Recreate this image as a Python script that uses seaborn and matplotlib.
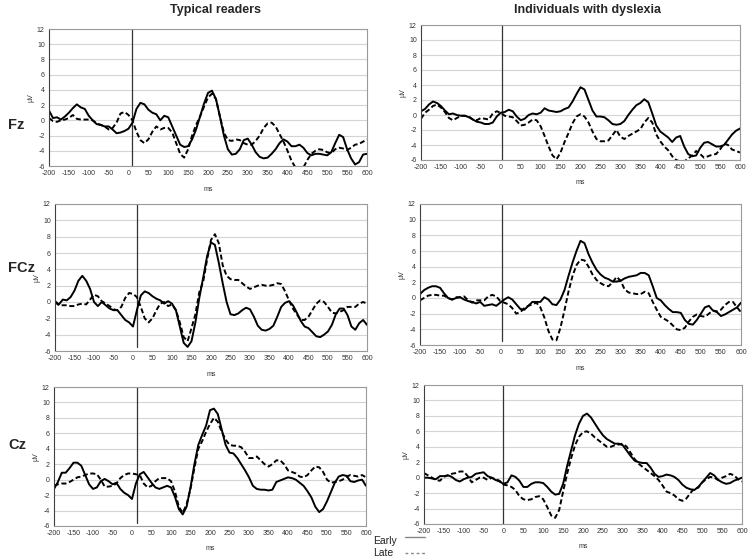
import matplotlib
matplotlib.use("Agg")
import matplotlib.pyplot as plt
import seaborn as sns

# time axis (ms), one sample every 10 ms
ms = list(range(-200, 601, 10))

# --- Fz ---
fz_typ_early = [1.3, 0.3, 0.4, 0.1, 0.5, 1.0, 1.6, 2.1, 1.7, 1.5, 0.6, 0.0, -0.5, -0.6, -0.8, -0.8, -1.2, -1.7, -1.6, -1.4,
                -1.1, -0.3, 1.5, 2.3, 2.1, 1.4, 1.0, 0.8, 0.0, 0.6, 0.4, -0.8, -2.0, -3.2, -3.5, -3.4, -2.5, -1.2, 0.5, 2.2,
                3.6, 3.9, 2.8, 0.5, -2.0, -3.8, -4.5, -4.4, -3.8, -2.6, -2.4, -3.2, -4.2, -4.8, -5.0, -4.9, -4.4, -3.8, -3.0, -2.5,
                -2.8, -3.4, -3.4, -3.2, -3.6, -4.3, -4.6, -4.4, -4.4, -4.5, -4.6, -4.2, -3.0, -1.9, -2.2, -3.8, -5.0, -5.8, -5.5, -4.5,
                -4.4]
fz_typ_late = [0.3, -0.1, -0.2, 0.0, 0.1, 0.3, 0.7, 0.2, 0.1, 0.1, 0.1, 0.0, -0.4, -0.6, -0.8, -1.2, -1.0, -0.3, 0.9, 1.1,
               0.7, 0.0, -1.5, -2.6, -3.0, -2.5, -1.5, -0.8, -1.2, -1.0, -1.0, -1.6, -3.0, -4.4, -4.9, -3.8, -2.0, -0.6, 0.5, 1.8,
               3.0, 3.5, 2.8, 0.5, -1.6, -2.6, -2.7, -2.5, -2.6, -3.0, -3.2, -3.2, -2.7, -2.0, -1.0, -0.4, -0.3, -0.8, -1.8, -2.8,
               -4.0, -5.3, -6.2, -6.5, -6.2, -5.2, -4.4, -4.0, -3.8, -3.9, -4.2, -4.3, -3.8, -3.6, -3.7, -3.9, -3.6, -3.2, -3.1, -2.8,
               -2.5]
fz_dys_early = [0.5, 0.8, 1.4, 1.8, 1.6, 1.2, 0.6, 0.1, 0.2, 0.0, -0.1, -0.1, -0.3, -0.6, -0.9, -1.0, -1.2, -1.2, -1.0, -0.2,
                0.3, 0.4, 0.7, 0.5, -0.2, -0.7, -0.5, 0.0, 0.2, 0.1, 0.3, 0.9, 0.6, 0.5, 0.4, 0.5, 0.8, 1.0, 1.8, 2.8,
                3.7, 3.4, 2.0, 0.6, -0.2, -0.2, -0.3, -0.7, -1.2, -1.3, -1.2, -0.8, 0.0, 0.7, 1.3, 1.6, 2.1, 1.7, 0.2, -1.4,
                -2.2, -2.6, -3.0, -3.6, -3.0, -2.8, -4.2, -5.2, -5.5, -5.4, -4.4, -3.7, -3.6, -3.9, -4.2, -4.2, -4.0, -3.3, -2.6, -2.1,
                -1.8]
fz_dys_late = [-0.5, 0.3, 0.7, 1.2, 1.4, 1.0, 0.4, -0.4, -0.7, -0.4, -0.1, -0.1, -0.2, -0.6, -0.7, -0.4, -0.5, -0.6, 0.2, 0.5,
               0.3, -0.1, -0.2, -0.3, -0.8, -1.4, -1.3, -1.0, -0.6, -0.7, -1.5, -2.8, -4.2, -5.4, -5.9, -5.0, -3.6, -2.4, -1.1, -0.2,
               0.1, -0.2, -1.0, -2.2, -3.2, -3.5, -3.5, -3.4, -2.7, -2.0, -2.9, -3.2, -2.8, -2.5, -2.2, -1.9, -1.0, -0.4, -1.0, -2.6,
               -3.5, -4.2, -4.7, -5.5, -6.0, -6.2, -6.2, -5.8, -5.4, -4.8, -5.2, -5.7, -5.5, -5.3, -5.2, -4.6, -3.8, -4.0, -4.6, -4.8,
               -5.0]

# --- FCz ---
fcz_typ_early = [0.1, -0.3, 0.3, 0.2, 0.6, 1.4, 2.6, 3.2, 2.6, 1.6, 0.0, -0.5, 0.0, -0.4, -0.8, -1.0, -1.0, -1.6, -2.2, -2.5,
                 -3.0, -1.0, 0.8, 1.3, 1.1, 0.7, 0.4, 0.2, -0.2, 0.1, -0.2, -1.0, -3.0, -5.0, -5.5, -4.8, -2.5, 0.5, 3.0, 5.6,
                 7.3, 7.0, 4.8, 2.3, 0.0, -1.5, -1.6, -1.4, -1.0, -0.7, -0.9, -1.8, -2.9, -3.4, -3.5, -3.3, -2.9, -1.8, -0.6, -0.1,
                 0.1, -0.4, -1.3, -2.3, -3.0, -3.2, -3.7, -4.2, -4.3, -4.0, -3.6, -2.8, -1.5, -0.8, -0.8, -1.6, -3.0, -3.4, -2.6, -2.2,
                 -2.8]
fcz_typ_late = [0.0, -0.4, -0.4, -0.4, -0.5, -0.5, -0.3, -0.2, -0.3, 0.3, 0.9, 0.7, 0.1, -0.2, -0.5, -0.9, -1.0, -0.6, 0.5, 1.1,
                1.0, 0.6, -0.6, -2.0, -2.5, -2.0, -1.0, -0.2, 0.0, -0.5, -0.3, -1.0, -2.5, -4.3, -4.8, -3.2, -1.5, 1.2, 2.5, 5.2,
                7.6, 8.3, 7.2, 4.5, 3.2, 2.8, 2.7, 2.7, 2.3, 1.9, 1.6, 1.8, 2.0, 2.1, 2.0, 2.0, 2.1, 2.3, 2.2, 1.3,
                0.2, -0.8, -1.5, -2.2, -2.2, -1.8, -1.0, -0.2, 0.2, 0.0, -0.6, -1.3, -1.4, -1.2, -1.0, -0.6, -0.6, -0.6, -0.2, 0.0,
                -0.2]
fcz_dys_early = [0.5, 1.0, 1.3, 1.5, 1.5, 1.3, 0.6, 0.0, -0.2, 0.0, 0.1, -0.2, -0.4, -0.5, -0.7, -0.5, -1.0, -0.9, -0.8, -1.0,
                 -0.6, -0.2, 0.1, -0.2, -0.8, -1.4, -1.5, -1.0, -0.5, -0.5, -0.5, 0.1, -0.2, -0.8, -0.9, -0.2, 1.0, 2.8, 4.5, 6.0,
                 7.3, 7.0, 5.6, 4.5, 3.6, 3.0, 2.6, 2.4, 2.1, 2.1, 2.2, 2.5, 2.7, 2.8, 2.9, 3.2, 3.2, 2.9, 1.5, 0.0,
                 -0.3, -0.9, -1.4, -1.8, -1.8, -1.9, -2.8, -3.3, -3.4, -2.8, -2.0, -1.2, -1.0, -1.6, -1.8, -2.3, -2.1, -1.8, -1.5, -1.2,
                 -0.6]
fcz_dys_late = [-0.3, 0.0, 0.3, 0.4, 0.4, 0.3, 0.3, 0.0, -0.2, 0.1, 0.1, 0.2, -0.3, -0.6, -0.3, -0.3, -0.3, 0.2, 0.4, 0.2,
                -0.4, -0.6, -0.8, -1.3, -2.0, -1.8, -1.3, -1.0, -0.8, -0.6, -1.2, -2.5, -4.2, -5.3, -5.4, -3.8, -1.6, 0.8, 2.8, 4.2,
                4.9, 4.8, 4.0, 3.0, 2.3, 1.9, 1.6, 1.5, 2.0, 2.7, 2.2, 1.1, 0.7, 0.6, 0.5, 0.5, 0.8, 0.6, -0.5, -1.5,
                -2.4, -2.7, -3.0, -3.5, -4.0, -4.1, -3.8, -3.0, -2.4, -2.1, -2.3, -2.4, -2.0, -1.6, -1.7, -1.5, -0.9, -0.5, -0.5, -1.2,
                -1.8]

# --- Cz ---
cz_typ_early = [-1.2, -0.3, 0.9, 0.9, 1.5, 2.2, 2.2, 1.8, 0.6, -0.6, -1.2, -1.0, -0.2, 0.1, -0.2, -0.6, -0.4, -1.2, -1.7, -2.0,
                -2.5, -0.5, 0.7, 1.0, 0.3, -0.4, -1.0, -1.2, -1.0, -0.8, -1.0, -2.2, -3.8, -4.5, -3.5, -1.0, 2.0, 4.5, 5.8, 7.0,
                9.0, 9.2, 8.5, 6.5, 4.5, 3.5, 3.4, 2.8, 2.0, 1.2, 0.3, -0.8, -1.2, -1.3, -1.3, -1.4, -1.3, -0.3, -0.1, 0.1,
                0.3, 0.2, 0.0, -0.4, -0.8, -1.5, -2.3, -3.5, -4.2, -3.8, -2.8, -1.6, -0.4, 0.4, 0.6, 0.5, -0.2, -0.3, -0.1, 0.0,
                -0.8]
cz_typ_late = [-0.8, -0.6, -0.5, -0.5, -0.3, 0.0, 0.3, 0.4, 0.6, 0.8, 0.8, 0.7, 0.0, -0.9, -0.9, -0.8, -0.5, 0.2, 0.6, 0.8,
               0.8, 0.7, 0.6, -0.5, -1.0, -0.8, -0.2, 0.2, 0.2, 0.2, -0.2, -1.5, -3.5, -4.3, -3.2, -1.2, 1.5, 4.0, 5.0, 6.2,
               7.2, 8.0, 7.5, 6.2, 5.2, 4.5, 4.4, 4.4, 4.2, 3.6, 2.8, 2.8, 3.0, 2.5, 2.0, 1.7, 2.0, 2.5, 2.5, 2.0,
               1.2, 1.0, 0.8, 0.4, 0.3, 0.6, 1.2, 1.7, 1.6, 1.0, 0.0, -0.4, -0.3, -0.2, 0.0, 0.4, 0.6, 0.5, 0.4, 0.6,
               0.3]
cz_dys_early = [0.0, 0.0, -0.1, -0.2, 0.2, 0.2, 0.3, 0.1, -0.3, -0.5, -0.2, 0.0, 0.1, 0.5, 0.6, 0.7, 0.2, 0.0, -0.3, -0.5,
                -0.8, -0.6, 0.3, 0.1, -0.4, -1.2, -1.2, -0.8, -0.6, -0.6, -0.7, -1.2, -1.8, -2.2, -2.1, -0.8, 1.5, 3.5, 5.5, 7.0,
                8.0, 8.3, 7.8, 7.0, 6.2, 5.5, 5.0, 4.7, 4.4, 4.4, 4.2, 3.5, 2.8, 2.2, 2.0, 1.9, 1.9, 1.3, 0.5, 0.1,
                0.2, 0.4, 0.3, 0.1, -0.3, -0.9, -1.3, -1.5, -1.6, -1.2, -0.6, 0.0, 0.6, 0.3, -0.3, -0.6, -0.8, -0.7, -0.4, -0.2,
                0.0]
cz_dys_late = [0.6, 0.3, 0.0, -0.3, -0.4, 0.1, 0.3, 0.5, 0.6, 0.8, 0.8, 0.2, -0.6, -0.3, 0.0, 0.0, -0.3, 0.0, -0.2, -0.4,
               -0.9, -1.0, -1.2, -1.6, -2.4, -2.8, -2.9, -2.8, -2.5, -2.4, -2.8, -3.8, -4.9, -5.2, -4.2, -1.8, 0.5, 2.5, 4.2, 5.3,
               5.9, 6.0, 5.7, 5.2, 4.8, 4.4, 4.0, 4.0, 4.2, 4.3, 4.4, 4.0, 3.2, 2.4, 1.8, 1.4, 1.0, 0.6, 0.2, -0.3,
               -1.0, -1.8, -2.0, -2.3, -2.8, -3.0, -2.7, -2.0, -1.4, -1.3, -0.6, -0.2, 0.1, 0.0, -0.3, 0.0, 0.2, 0.5, 0.3, -0.2,
               -0.5]

electrodes = ["Fz", "FCz", "Cz"]
groups = ["Typical readers", "Individuals with dyslexia"]
early = [[fz_typ_early, fz_dys_early], [fcz_typ_early, fcz_dys_early], [cz_typ_early, cz_dys_early]]
late = [[fz_typ_late, fz_dys_late], [fcz_typ_late, fcz_dys_late], [cz_typ_late, cz_dys_late]]
# where the onset marker was drawn in each panel (ms) and how far down it reaches (µV)
onset = [[8, 3], [11, 4], [13, -2]]
onset_bottom = [[-6, -6], [-5.5, -5.5], [-5.6, -6]]

# panel boxes in pixels: x0, y0 (top), x1, y1 (bottom)
boxes = [[(49, 29, 367, 166), (421, 25, 740, 160)],
         [(55, 204, 367, 351), (420, 204, 741, 345)],
         [(54, 387, 366, 526), (424, 385, 742, 524)]]

sns.set_theme(style="white")
plt.rcParams["font.family"] = ["Liberation Sans", "DejaVu Sans"]
plt.rcParams["axes.unicode_minus"] = False

W, H = 750, 560
fig = plt.figure(figsize=(7.5, 5.6), dpi=100)

for r in range(3):
    for c in range(2):
        x0, y0, x1, y1 = boxes[r][c]
        ax = fig.add_axes([x0 / W, 1 - y1 / H, (x1 - x0) / W, (y1 - y0) / H])
        ax.set_xlim(-200, 600)
        ax.set_ylim(-6, 12)
        ax.set_yticks(range(-6, 13, 2))
        ax.set_xticks(range(-200, 601, 50))
        ax.grid(axis="y", color="#d4d4d4", linewidth=0.8)
        ax.set_axisbelow(True)
        for side in ["top", "right", "bottom"]:
            ax.spines[side].set_color("#9a9a9a")
            ax.spines[side].set_linewidth(0.8)
        ax.spines["left"].set_color("#404040")
        ax.spines["left"].set_linewidth(0.8)
        ax.tick_params(length=0, labelsize=5, colors="#333333", pad=3)

        yb = (onset_bottom[r][c] + 6) / 18
        ax.axvline(onset[r][c], ymin=yb, ymax=1, color="#333333", linewidth=0.9)

        sns.lineplot(x=ms, y=early[r][c], ax=ax, color="black", linewidth=1.4)
        sns.lineplot(x=ms, y=late[r][c], ax=ax, color="black", linewidth=1.4,
                     linestyle=(0, (2.6, 1.4)))
        ax.set_xlabel("ms", fontsize=5, color="#333333", labelpad=6)
        ax.set_ylabel("µV", fontsize=5, color="#333333", labelpad=2)

for c, g in enumerate(groups):
    fig.text([215, 587][c] / W, 1 - 10 / H, g, ha="center", va="center",
             fontsize=9, fontweight="bold")

for r, e in enumerate(electrodes):
    fig.text(8 / W, 1 - [125, 268, 445][r] / H, e, ha="left", va="center",
             fontsize=10.5, fontweight="bold")

# legend below the panels
fig.text(373 / W, 1 - 541 / H, "Early", fontsize=7.5, va="center", color="#222222")
fig.text(373 / W, 1 - 553 / H, "Late", fontsize=7.5, va="center", color="#222222")
fig.add_artist(plt.Line2D([405 / W, 425 / W], [1 - 537 / H, 1 - 537 / H], color="#888888", linewidth=1.0))
fig.add_artist(plt.Line2D([405 / W, 427 / W], [1 - 553 / H, 1 - 553 / H], color="#888888", linewidth=1.0,
                          linestyle=(0, (2, 2))))

fig.savefig("out.png", dpi=100, facecolor="white")
